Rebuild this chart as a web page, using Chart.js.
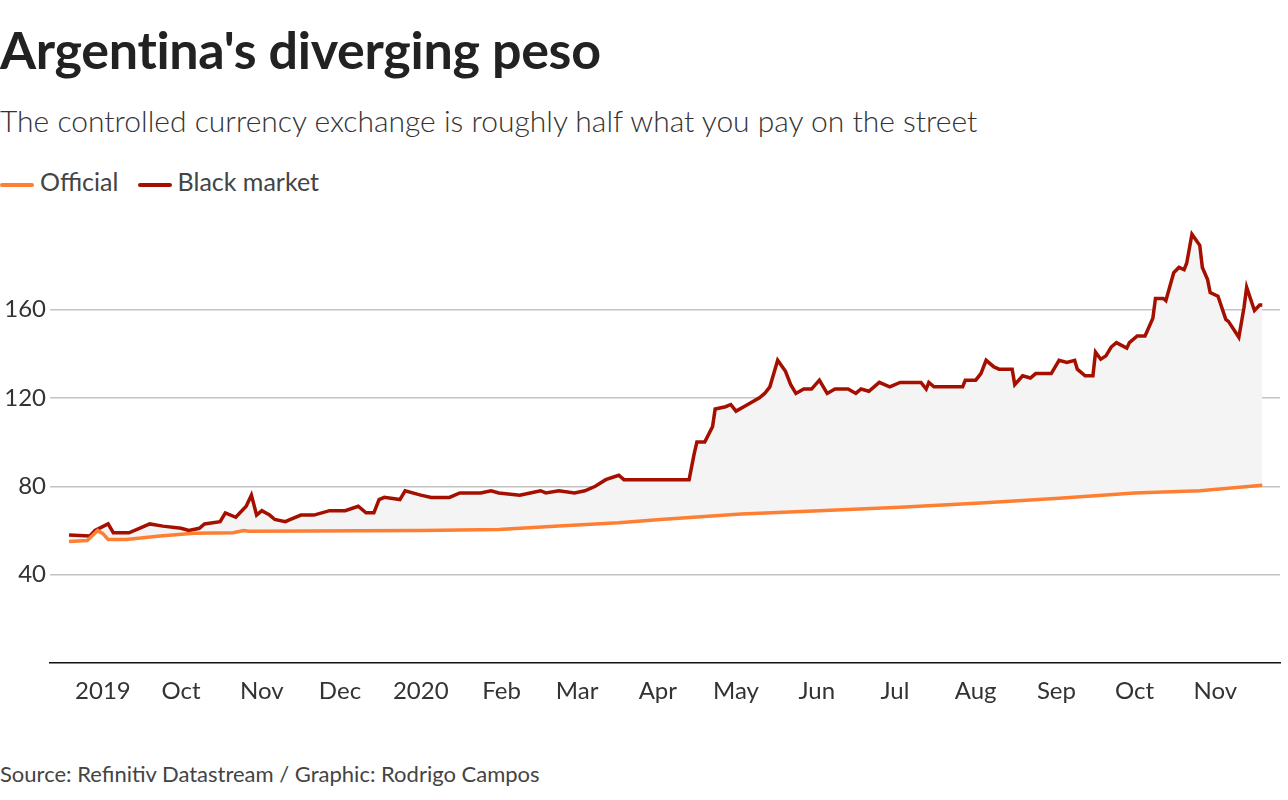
<!DOCTYPE html>
<html><head><meta charset="utf-8">
<script src="https://cdn.jsdelivr.net/npm/chart.js@4"></script>
<style>
body{margin:0;width:1288px;height:800px;background:#fff;font-family:"Source Sans Pro",Lato,sans-serif;color:#222;position:relative;overflow:hidden}
#title{position:absolute;left:0;top:18px;font-size:52px;font-weight:bold;letter-spacing:-0.3px}
#sub{position:absolute;left:0;top:102px;font-size:30px;font-weight:300;color:#333}
#legend{position:absolute;left:0;top:166px;font-size:25px;color:#444}
#legend span{display:inline-block;width:34px;height:4px;vertical-align:middle;margin-right:6px;border-radius:2px}
#src{position:absolute;left:0;top:760px;font-size:22px;color:#444}
#wrap{position:absolute;left:0;top:200px;width:1288px;height:512px}
</style></head><body>
<div id="title">Argentina's diverging peso</div>
<div id="sub">The controlled currency exchange is roughly half what you pay on the street</div>
<div id="legend"><span style="background:#ff7f32"></span>Official&nbsp;&nbsp;&nbsp;<span style="background:#a50f00"></span>Black market</div>
<div id="wrap"><canvas id="c"></canvas></div>
<div id="src">Source: Refinitiv Datastream / Graphic: Rodrigo Campos</div>
<script>
// days since 2019-09-01
const officialDays = [-13,-6,-2,0,2,9,22,35,50,54,56,122,152,175,198,214,245,275,306,337,367,396,421,445];
const officialVals = [55,55.5,60,58.6,56,56,57.5,58.8,59,60,59.7,60,60.5,62,63.5,65,67.5,69,70.5,72.5,74.6,77,78,80.5];
const blackDays = [-13,-5,-3,2,4,10,14,18,23,30,33,37,39,45,47,51,55,57,59,61,64,66,70,72,76,81,87,93,98,101,104,106,108,114,116,122,126,133,137,145,149,152,160,164,168,170,175,181,185,189,193,198,200,225,227,228,231,234,235,239,241,243,246,252,254,256,259,262,264,266,269,272,275,278,281,286,289,291,294,298,302,306,314,316,317,319,330,331,335,337,339,342,344,349,350,353,356,358,364,367,370,373,374,377,380,381,383,385,387,389,393,394,397,400,403,404,407,408,411,413,415,416,418,421,422,424,425,428,431,432,436,438,439,442,444,445];
const blackVals = [58,57.5,60,63,59,59,61,63,62,61,60,61,63,64,68,66,71,76,67,69,67,65,64,65,67,67,69,69,71,68,68,74,75,74,78,76,75,75,77,77,78,77,76,77,78,77,78,77,78,80,83,85,83,83,95,100,100,107,115,116,117,114,116,120,122,125,137,132,126,122,124,124,128,122,124,124,122,124,123,127,125,127,127,124,127,125,125,128,128,131,137,134,133,133,126,130,129,131,131,137,136,137,133,130,130,140.7,137.5,139,143,145,142.5,145,148,148,156,165,165,164,176.6,179,178,181,194,189,179,173.5,167.6,166,155.5,154.6,147.4,161,170,159.5,162,162];
const tickDays = [0,30,61,91,122,153,182,213,243,274,304,335,366,396,427];
const tickLabels = ["2019","Oct","Nov","Dec","2020","Feb","Mar","Apr","May","Jun","Jul","Aug","Sep","Oct","Nov"];
const yTicks = [40,80,120,160];

const zip = (d, v) => d.map((x, i) => ({x, y: v[i]}));
const font = {family: "'Source Sans Pro', Lato, sans-serif", size: 24};

new Chart(document.getElementById("c"), {
  type: "line",
  data: {datasets: [
    {label: "Official", data: zip(officialDays, officialVals), borderColor: "#ff7f32", borderWidth: 3.5, pointRadius: 0, fill: false, tension: 0},
    {label: "Black market", data: zip(blackDays, blackVals), borderColor: "#a50f00", borderWidth: 3.5, pointRadius: 0, fill: {target: 0}, backgroundColor: "#f4f4f4", tension: 0}
  ]},
  options: {
    responsive: true, maintainAspectRatio: false, animation: false,
    layout: {padding: {top: 21, right: 8, left: 0, bottom: 0}},
    plugins: {legend: {display: false}, tooltip: {enabled: false}},
    scales: {
      x: {type: "linear", min: -20.3, max: 451.8,
        afterBuildTicks: a => { a.ticks = tickDays.map(v => ({value: v})); },
        ticks: {font, color: "#333", padding: 6, maxRotation: 0, autoSkip: false,
          callback: v => tickLabels[tickDays.indexOf(v)]},
        grid: {display: false}, border: {color: "#111", width: 1.5}},
      y: {min: 0, max: 200,
        afterBuildTicks: a => { a.ticks = yTicks.map(v => ({value: v})); },
        afterFit: a => { a.width = 50; },
        ticks: {font, color: "#333", padding: 4},
        grid: {color: "#c4c4c4", lineWidth: 1.5, drawTicks: false}, border: {display: false}}
    }
  }
});
</script>
</body></html>
